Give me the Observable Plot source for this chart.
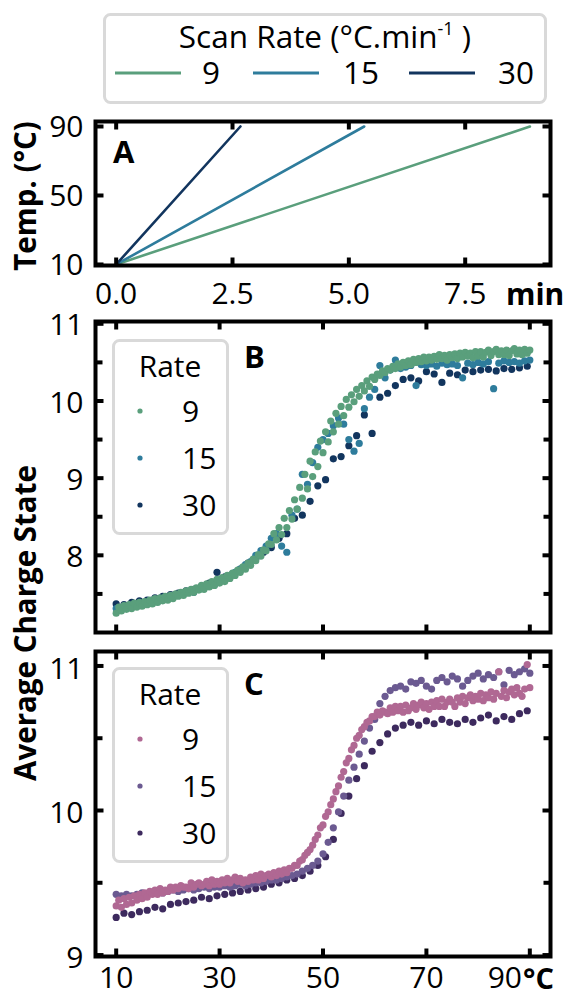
<!DOCTYPE html>
<html><head><meta charset="utf-8">
<script src="https://cdn.jsdelivr.net/npm/d3@7"></script>
<script src="https://cdn.jsdelivr.net/npm/@observablehq/plot@0.6"></script>
<style>
body{margin:0;background:#fff;font-family:"Open Sans",sans-serif;}
#chart{position:relative;width:568px;height:996px;overflow:hidden;background:#fff;}
#chart svg{position:absolute;left:0;}
</style></head><body><div id="chart"></div><script>
// ---------- data ----------
const rates = [9, 15, 30];
const colorsB = ["#5a9f7c", "#2e7c9c", "#12355e"];
const colorsC = ["#b06893", "#6b5a91", "#3d2a5e"];

// Panel A: temperature ramp (start/end temperature, end time per rate, min)
const rampTemps = [10, 90];
const rampEndTimes = [8.89, 5.33, 2.67];

// Temperatures of the measured points (°C)
const temps9 = [10,10.5,11,11.5,12,12.5,13,13.5,14,14.5,
15,15.5,16,16.5,17,17.5,18,18.5,19,19.5,
20,20.5,21,21.5,22,22.5,23,23.5,24,24.5,
25,25.5,26,26.5,27,27.5,28,28.5,29,29.5,
30,30.5,31,31.5,32,32.5,33,33.5,34,34.5,
35,35.5,36,36.5,37,37.5,38,38.5,39,39.5,
40,40.5,41,41.5,42,42.5,43,43.5,44,44.5,
45,45.5,46,46.5,47,47.5,48,48.5,49,49.5,
50,50.5,51,51.5,52,52.5,53,53.5,54,54.5,
55,55.5,56,56.5,57,57.5,58,58.5,59,59.5,
60,60.5,61,61.5,62,62.5,63,63.5,64,64.5,
65,65.5,66,66.5,67,67.5,68,68.5,69,69.5,
70,70.5,71,71.5,72,72.5,73,73.5,74,74.5,
75,75.5,76,76.5,77,77.5,78,78.5,79,79.5,
80,80.5,81,81.5,82,82.5,83,83.5,84,84.5,
85,85.5,86,86.5,87,87.5,88,88.5,89,89.5,
90];
const temps15 = [10,11,12,13,14,15,16,17,18,19,
20,21,22,23,24,25,26,27,28,29,
30,31,32,33,34,35,36,37,38,39,
40,41,42,43,44,45,46,47,48,49,
50,51,52,53,54,55,56,57,58,59,
60,61,62,63,64,65,66,67,68,69,
70,71,72,73,74,75,76,77,78,79,
80,81,82,83,84,85,86,87,88,89,
90];
const temps30 = [10,11.5,13,14.5,16,17.5,19,20.5,22,23.5,25,26.5,28,29.5,31,32.5,34,35.5,37,38.5,
40,41.5,43,44.5,46,47.5,49,50.5,52,53.5,55,56.5,58,59.5,61,62.5,64,65.5,67,68.5,
70,71.5,73,74.5,76,77.5,79,80.5,82,83.5,85,86.5,88,89.5];

// Panel B: average charge state
const b9 = [7.25,7.33,7.28,7.35,7.30,7.36,7.31,7.38,7.33,7.39,
7.34,7.40,7.36,7.42,7.37,7.44,7.39,7.45,7.41,7.47,
7.42,7.48,7.44,7.50,7.47,7.52,7.48,7.54,7.51,7.56,
7.52,7.58,7.55,7.61,7.56,7.63,7.59,7.66,7.61,7.69,
7.64,7.71,7.66,7.74,7.70,7.77,7.74,7.81,7.78,7.85,
7.82,7.90,7.87,7.95,7.93,8.01,7.99,8.07,8.06,8.15,
8.14,8.28,8.20,8.36,8.27,8.48,8.36,8.58,8.47,8.72,
8.60,8.88,8.74,9.05,8.86,9.22,9.02,9.34,9.15,9.48,
9.33,9.60,9.47,9.74,9.60,9.84,9.70,9.93,9.81,10.02,
9.92,10.08,9.99,10.15,10.06,10.20,10.13,10.26,10.19,10.31,
10.28,10.35,10.33,10.39,10.37,10.42,10.40,10.45,10.42,10.48,
10.44,10.50,10.46,10.52,10.47,10.54,10.50,10.55,10.51,10.57,
10.52,10.57,10.53,10.58,10.54,10.60,10.55,10.59,10.53,10.60,
10.56,10.61,10.55,10.62,10.57,10.63,10.58,10.62,10.56,10.64,
10.58,10.64,10.57,10.63,10.66,10.59,10.64,10.67,10.60,10.65,
10.60,10.66,10.59,10.65,10.68,10.61,10.66,10.60,10.67,10.62,
10.66];
const b15 = [7.31,7.29,7.33,7.35,7.34,7.38,7.37,7.41,7.40,7.44,
7.45,7.47,7.48,7.50,7.53,7.52,7.56,7.58,7.60,7.62,
7.66,7.70,7.72,7.78,7.82,7.88,7.92,8.00,8.06,8.12,
8.22,8.28,8.12,8.04,8.52,8.60,9.05,8.92,9.20,9.40,
9.50,9.58,9.68,9.78,9.70,9.50,9.35,9.45,9.90,10.05,
10.15,10.46,10.30,10.40,10.53,10.42,10.44,10.46,10.20,10.47,
10.46,10.48,10.45,10.49,10.47,10.48,10.46,10.30,10.49,10.47,
10.50,10.48,10.51,10.16,10.49,10.52,10.50,10.51,10.49,10.52,
10.53];
const b30 = [7.37,7.36,7.39,7.41,7.42,7.45,7.47,7.49,7.51,7.54,7.56,7.59,7.64,7.78,7.72,7.76,7.82,7.90,7.96,8.04,
8.10,8.22,8.28,8.48,8.52,8.70,8.90,8.98,9.25,9.28,9.42,9.55,9.82,9.58,10.05,10.10,10.20,10.28,10.30,10.26,
10.38,10.35,10.24,10.36,10.34,10.40,10.38,10.40,10.41,10.39,10.42,10.41,10.43,10.45];

// Panel C: average charge state
const c9 = [9.34,9.38,9.33,9.39,9.35,9.40,9.36,9.41,9.38,9.42,
9.39,9.43,9.40,9.44,9.42,9.45,9.42,9.46,9.43,9.45,
9.44,9.47,9.45,9.47,9.46,9.48,9.47,9.47,9.46,9.50,
9.47,9.49,9.50,9.48,9.49,9.51,9.48,9.52,9.49,9.51,
9.49,9.52,9.50,9.53,9.50,9.52,9.54,9.51,9.53,9.50,
9.52,9.51,9.54,9.52,9.55,9.52,9.56,9.53,9.55,9.56,
9.54,9.57,9.55,9.58,9.56,9.59,9.57,9.60,9.60,9.62,
9.62,9.65,9.66,9.69,9.71,9.73,9.76,9.80,9.83,9.88,
9.90,9.96,9.99,10.04,10.08,10.13,10.17,10.23,10.27,10.33,
10.36,10.42,10.45,10.50,10.52,10.56,10.58,10.61,10.62,10.65,
10.65,10.68,10.66,10.69,10.68,10.67,10.71,10.68,10.72,10.69,
10.72,10.68,10.73,10.69,10.71,10.74,10.70,10.73,10.75,10.71,
10.74,10.70,10.75,10.72,10.76,10.72,10.77,10.72,10.75,10.77,
10.75,10.72,10.78,10.75,10.79,10.74,10.78,10.80,10.76,10.79,
10.77,10.81,10.76,10.80,10.78,10.82,10.77,10.81,10.96,10.79,
10.83,10.78,10.82,10.84,10.80,10.85,10.81,10.79,10.84,11.01,
10.85];
const c15 = [9.42,9.41,9.42,9.41,9.42,9.43,9.42,9.43,9.44,9.43,
9.44,9.45,9.44,9.45,9.46,9.45,9.46,9.47,9.46,9.47,
9.47,9.48,9.47,9.48,9.49,9.48,9.49,9.50,9.50,9.51,
9.52,9.52,9.53,9.54,9.55,9.56,9.58,9.60,9.62,9.65,
9.70,9.78,9.88,9.99,10.10,10.21,10.30,10.39,10.48,10.57,
10.63,10.74,10.79,10.83,10.85,10.86,10.84,10.89,10.88,10.90,
10.86,10.84,10.90,10.92,10.89,10.93,10.91,10.86,10.90,10.93,
10.95,10.91,10.94,10.92,10.96,10.87,10.97,10.94,10.96,10.98,
10.95];
const c30 = [9.26,9.29,9.28,9.30,9.31,9.33,9.32,9.35,9.36,9.37,9.38,9.40,9.39,9.41,9.42,9.43,9.44,9.45,9.46,9.47,
9.49,9.50,9.52,9.53,9.55,9.58,9.62,9.68,9.80,9.98,10.10,10.22,10.31,10.41,10.47,10.53,10.57,10.59,10.61,10.59,
10.62,10.60,10.63,10.61,10.60,10.63,10.61,10.64,10.66,10.62,10.65,10.63,10.67,10.69];

// Tick values
const ticksAx = [0, 2.5, 5, 7.5];
const ticksAy = [10, 50, 90];
const ticksT = [10, 30, 50, 70, 90];
const ticksByMajor = [8, 9, 10, 11];
const ticksByMinor = [7.5, 8.5, 9.5, 10.5];
const ticksCyMajor = [9, 10, 11];
const ticksCyMinor = [9.5, 10.5];

// ---------- helpers ----------
const rows = (temps, vals, rate) => temps.map((T, i) => ({T, v: vals[i], rate}));
const dataB = [...rows(temps30, b30, 30), ...rows(temps15, b15, 15), ...rows(temps9, b9, 9)];
const dataC = [...rows(temps30, c30, 30), ...rows(temps15, c15, 15), ...rows(temps9, c9, 9)];
const rampRows = rates.flatMap((r, i) => [
  {t: 0, temp: rampTemps[0], rate: r},
  {t: rampEndTimes[i], temp: rampTemps[1], rate: r}
]);

const lineShape = {draw(ctx, l) { ctx.moveTo(0, 0); ctx.lineTo(0, -l); }};
function tk(vals, anchor, len = 8) {
  const ch = (anchor === "left" || anchor === "right") ? "y" : "x";
  return Plot.vector(vals, {
    [ch]: d => d, frameAnchor: anchor,
    rotate: {left: 90, right: -90, bottom: 0, top: 180}[anchor],
    length: len, anchor: "start", shape: lineShape,
    stroke: "black", strokeWidth: 4, strokeLinecap: "butt"
  });
}
const FS = 30;
const baseStyle = {fontFamily: "'Open Sans'", fontSize: FS + "px", color: "black", background: "transparent", overflow: "visible"};
const chart = document.getElementById("chart");
function place(svg, top) { svg.style.position = "absolute"; svg.style.top = top + "px"; svg.style.left = "0px"; chart.appendChild(svg); }
const intFmt = d => String(d);

// ---------- Panel A ----------
const plotA = Plot.plot({
  width: 568, height: 215, marginTop: 21, marginBottom: 50, marginLeft: 95, marginRight: 18,
  style: baseStyle,
  x: {domain: [-0.444, 9.333], label: null},
  y: {domain: [9.4, 92.9], label: null},
  color: {type: "ordinal", domain: rates, range: colorsB},
  marks: [
    Plot.line(rampRows, {x: "t", y: "temp", z: "rate", stroke: "rate", strokeWidth: 2.6}),
    Plot.frame({stroke: "black", strokeWidth: 4}),
    tk(ticksAx, "bottom"), tk(ticksAx, "top"), tk(ticksAy, "left"), tk(ticksAy, "right"),
    Plot.axisX(ticksAx, {anchor: "bottom", tickSize: 0, tickPadding: 17, tickFormat: d3.format(".1f"), label: null}),
    Plot.axisY(ticksAy, {anchor: "left", tickSize: 0, tickPadding: 12, dy: 1, tickFormat: intFmt, label: null})
  ]
});
place(plotA, 100);

// ---------- Panel B ----------
const plotB = Plot.plot({
  width: 568, height: 325, marginTop: 6, marginBottom: 8, marginLeft: 95, marginRight: 18,
  style: baseStyle,
  x: {domain: [6, 94], label: null, axis: null},
  y: {domain: [7.0, 11.03], label: null},
  color: {type: "ordinal", domain: rates, range: colorsB},
  marks: [
    Plot.dot(dataB, {x: "T", y: "v", fill: "rate", r: 3.6}),
    Plot.frame({stroke: "black", strokeWidth: 4}),
    tk(ticksT, "bottom"), tk(ticksT, "top"),
    tk(ticksByMajor, "left"), tk(ticksByMajor, "right"),
    tk(ticksByMinor, "left", 7), tk(ticksByMinor, "right", 7),
    Plot.axisY(ticksByMajor, {anchor: "left", tickSize: 0, tickPadding: 12, dy: 2, tickFormat: intFmt, label: null})
  ]
});
place(plotB, 315);

// ---------- Panel C ----------
const plotC = Plot.plot({
  width: 568, height: 356, marginTop: 11, marginBottom: 40, marginLeft: 95, marginRight: 18,
  style: baseStyle,
  x: {domain: [6, 94], label: null},
  y: {domain: [8.99, 11.1], label: null},
  color: {type: "ordinal", domain: rates, range: colorsC},
  marks: [
    Plot.dot(dataC, {x: "T", y: "v", fill: "rate", r: 3.6}),
    Plot.frame({stroke: "black", strokeWidth: 4}),
    tk(ticksT, "bottom"), tk(ticksT, "top"),
    tk(ticksCyMajor, "left"), tk(ticksCyMajor, "right"),
    tk(ticksCyMinor, "left", 7), tk(ticksCyMinor, "right", 7),
    Plot.axisY(ticksCyMajor, {anchor: "left", tickSize: 0, tickPadding: 12, dy: 3, tickFormat: intFmt, label: null}),
    Plot.axisX(ticksT.slice(0, 4), {anchor: "bottom", tickSize: 0, tickPadding: 10, tickFormat: intFmt, label: null}),
    Plot.axisX(ticksT.slice(4), {anchor: "bottom", tickSize: 0, tickPadding: 10, dx: -25, tickFormat: intFmt, label: null})
  ]
});
place(plotC, 640);

// ---------- overlay: legends, panel letters, unit and axis titles ----------
const ov = d3.select("#chart").append("svg")
  .attr("width", 568).attr("height", 996)
  .style("position", "absolute").style("left", "0px").style("top", "0px")
  .style("font-family", "'Open Sans'").style("pointer-events", "none");

// top legend
ov.append("rect").attr("x", 104.5).attr("y", 14.5).attr("width", 441).attr("height", 88)
  .attr("rx", 6).attr("fill", "#fff").attr("stroke", "#d9d9d9").attr("stroke-width", 3);
const title = ov.append("text").attr("x", 325).attr("y", 48).attr("text-anchor", "middle").attr("font-size", 31.5);
title.append("tspan").text("Scan Rate (°C.min");
title.append("tspan").attr("font-size", 18).attr("dy", -13).text("-1");
title.append("tspan").attr("dy", 13).text(" )");
const lineX = [115, 253, 409], labX = [202, 343, 498];
rates.forEach((r, i) => {
  ov.append("line").attr("x1", lineX[i]).attr("x2", lineX[i] + 66).attr("y1", 73).attr("y2", 73)
    .attr("stroke", colorsB[i]).attr("stroke-width", 3);
  ov.append("text").attr("x", labX[i]).attr("y", 84).attr("font-size", 31.5).text(r);
});

// panel legends
function panelLegend(top, colors) {
  ov.append("rect").attr("x", 113.5).attr("y", top + 1.5).attr("width", 114).attr("height", 193)
    .attr("rx", 6).attr("fill", "#fff").attr("stroke", "#d9d9d9").attr("stroke-width", 3);
  ov.append("text").attr("x", 170).attr("y", top + 38).attr("text-anchor", "middle").attr("font-size", FS).text("Rate");
  rates.forEach((r, i) => {
    const cy = top + 72 + i * 47;
    ov.append("circle").attr("cx", 140).attr("cy", cy).attr("r", 2.6).attr("fill", colors[i]);
    ov.append("text").attr("x", 182).attr("y", cy + 11).attr("font-size", FS).text(r);
  });
}
panelLegend(339, colorsB);
panelLegend(667, colorsC);

// panel letters and units
const bold = (x, y, s, anchor = "start", fs = 31) => ov.append("text").attr("x", x).attr("y", y)
  .attr("font-size", fs).attr("font-weight", "bold").attr("text-anchor", anchor).text(s);
bold(113, 163, "A");
bold(244, 368, "B");
bold(244, 695, "C");
bold(506, 305, "min", "start", 30);
bold(523, 989, "°C", "start", 29);

// rotated axis titles
const rot = (x, y, s) => ov.append("text").attr("transform", `translate(${x},${y}) rotate(-90)`)
  .attr("text-anchor", "middle").attr("font-size", 29.5).attr("font-weight", "bold").text(s);
rot(36, 196, "Temp. (°C)");
rot(36, 623, "Average Charge State");
</script></body></html>
